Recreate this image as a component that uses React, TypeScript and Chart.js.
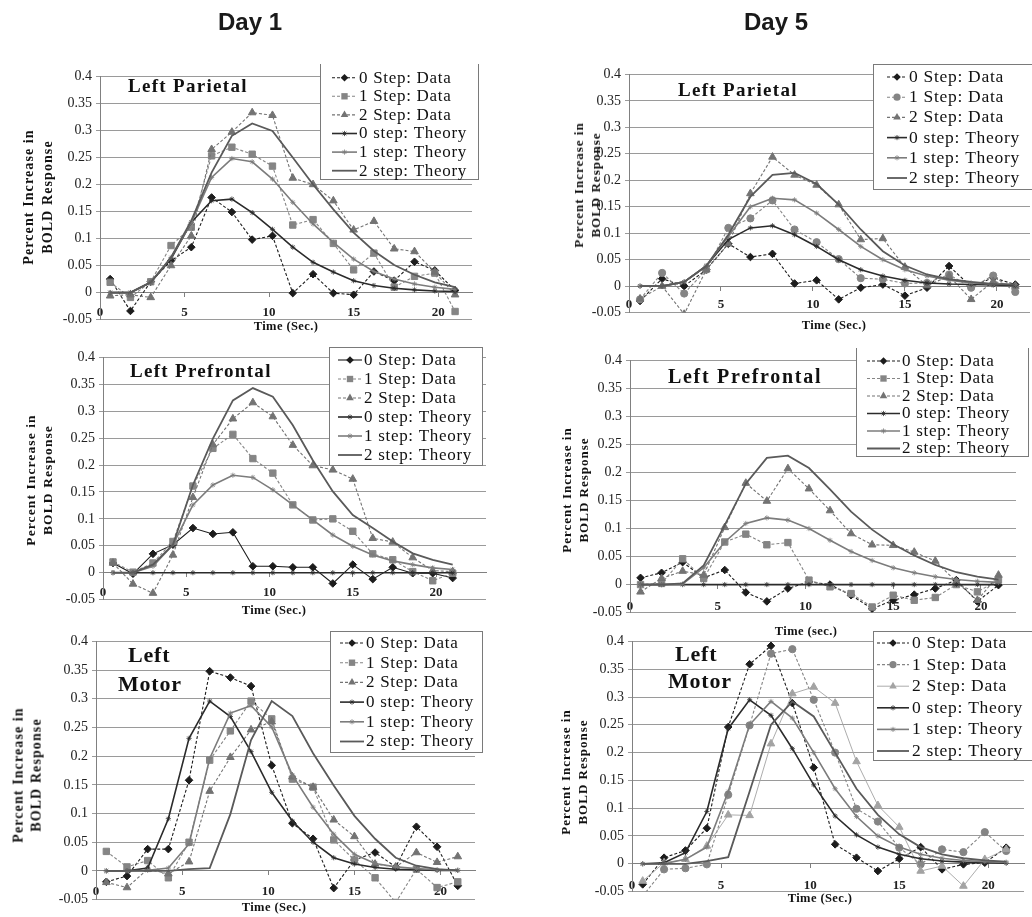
import React, { useEffect, useRef } from 'react';
import { Chart, registerables } from 'chart.js';

Chart.register(...registerables);

// ---------------- DATA ----------------
const TIME_SEC = [0.6, 1.8, 3.0, 4.2, 5.4, 6.6, 7.8, 9.0, 10.2, 11.4, 12.6, 13.8, 15.0, 16.2, 17.4, 18.6, 19.8, 21.0];
const X_TICKS = [0, 5, 10, 15, 20];
const Y_TICKS = [-0.05, 0, 0.05, 0.1, 0.15, 0.2, 0.25, 0.3, 0.35, 0.4];
const SERIES_LABELS = ['0 Step: Data', '1 Step: Data', '2 Step: Data', '0 step: Theory', '1 step: Theory', '2 step: Theory'];
const DAY_TITLES = ['Day 1', 'Day 5'];
const Y_TITLE = ['Percent Increase in', 'BOLD Response'];

// Day 1 - Left Parietal
const D1_PAR_D0 = [0.025, -0.034, 0.020, 0.059, 0.084, 0.176, 0.149, 0.098, 0.105, -0.001, 0.034, -0.001, -0.004, 0.039, 0.022, 0.057, 0.041, 0.004];
const D1_PAR_D1 = [0.019, -0.009, 0.020, 0.087, 0.121, 0.253, 0.269, 0.256, 0.234, 0.125, 0.135, 0.091, 0.042, 0.073, 0.010, 0.030, 0.036, -0.035];
const D1_PAR_D2 = [-0.006, -0.004, -0.009, 0.050, 0.105, 0.265, 0.297, 0.333, 0.328, 0.212, 0.200, 0.170, 0.116, 0.132, 0.081, 0.076, 0.038, -0.004];
const D1_PAR_T0 = [0, 0, 0.019, 0.062, 0.130, 0.170, 0.173, 0.148, 0.117, 0.084, 0.056, 0.038, 0.022, 0.013, 0.008, 0.005, 0.003, 0.002];
const D1_PAR_T1 = [0, 0, 0.019, 0.065, 0.130, 0.213, 0.248, 0.242, 0.210, 0.167, 0.127, 0.093, 0.062, 0.039, 0.025, 0.016, 0.010, 0.006];
const D1_PAR_T2 = [0, 0, 0.019, 0.065, 0.133, 0.222, 0.290, 0.313, 0.299, 0.250, 0.200, 0.154, 0.111, 0.077, 0.051, 0.033, 0.019, 0.010];

// Day 1 - Left Prefrontal
const D1_PRE_D0 = [0.018, -0.002, 0.035, 0.052, 0.083, 0.072, 0.075, 0.012, 0.012, 0.010, 0.010, -0.020, 0.015, -0.012, 0.010, -0.001, -0.001, -0.010];
const D1_PRE_D1 = [0.020, 0.001, 0.018, 0.058, 0.161, 0.231, 0.257, 0.212, 0.185, 0.126, 0.098, 0.100, 0.077, 0.035, 0.024, 0.002, -0.015, -0.001];
const D1_PRE_D2 = [0.018, -0.021, -0.038, 0.033, 0.140, 0.238, 0.286, 0.316, 0.290, 0.237, 0.199, 0.191, 0.174, 0.064, 0.057, 0.028, 0.004, 0.002];
const D1_PRE_T0 = [0, 0, 0, 0, 0, 0, 0, 0, 0, 0, 0, 0, 0, 0, 0, 0, 0, 0];
const D1_PRE_T1 = [0, 0, 0.012, 0.052, 0.126, 0.163, 0.181, 0.177, 0.154, 0.126, 0.098, 0.070, 0.049, 0.033, 0.022, 0.015, 0.009, 0.006];
const D1_PRE_T2 = [0, 0, 0.015, 0.052, 0.163, 0.249, 0.320, 0.343, 0.327, 0.274, 0.209, 0.151, 0.107, 0.083, 0.058, 0.036, 0.024, 0.015];

// Day 1 - Left Motor
const D1_MOT_D0 = [-0.019, -0.009, 0.038, 0.038, 0.158, 0.348, 0.337, 0.322, 0.184, 0.083, 0.056, -0.030, 0.019, 0.032, 0.007, 0.077, 0.042, -0.026];
const D1_MOT_D1 = [0.034, 0.007, 0.018, -0.012, 0.050, 0.193, 0.244, 0.296, 0.265, 0.160, 0.146, 0.054, 0.019, -0.012, -0.055, 0.003, -0.029, -0.019];
const D1_MOT_D2 = [-0.020, -0.029, 0.003, -0.005, 0.016, 0.139, 0.198, 0.246, 0.260, 0.164, 0.146, 0.089, 0.060, 0.012, 0.007, 0.032, 0.015, 0.025];
const D1_MOT_T0 = [0, 0, 0.005, 0.091, 0.231, 0.296, 0.269, 0.208, 0.137, 0.087, 0.050, 0.023, 0.012, 0.006, 0.003, 0.002, 0.001, 0.001];
const D1_MOT_T1 = [0, 0, 0.001, 0.005, 0.047, 0.196, 0.275, 0.288, 0.251, 0.167, 0.111, 0.064, 0.029, 0.013, 0.007, 0.004, 0.002, 0.001];
const D1_MOT_T2 = [0, 0, 0, 0, 0.003, 0.005, 0.099, 0.228, 0.296, 0.270, 0.205, 0.149, 0.096, 0.056, 0.023, 0.009, 0.003, 0.001];

// Day 5 - Left Parietal
const D5_PAR_D0 = [-0.028, 0.014, 0.0, 0.031, 0.080, 0.055, 0.061, 0.005, 0.011, -0.025, -0.003, 0.003, -0.018, -0.003, 0.038, -0.001, 0.016, 0.003];
const D5_PAR_D1 = [-0.025, 0.025, -0.014, 0.031, 0.110, 0.128, 0.162, 0.107, 0.083, 0.051, 0.015, 0.013, 0.005, 0.006, 0.022, -0.003, 0.020, -0.011];
const D5_PAR_D2 = [-0.024, 0.0, -0.053, 0.031, 0.080, 0.175, 0.244, 0.210, 0.191, 0.154, 0.088, 0.090, 0.036, 0.001, 0.019, -0.025, 0.009, 0.0];
const D5_PAR_T0 = [0, 0, 0.008, 0.038, 0.088, 0.110, 0.114, 0.097, 0.075, 0.050, 0.031, 0.019, 0.011, 0.006, 0.004, 0.003, 0.002, 0.001];
const D5_PAR_T1 = [0, 0, 0.008, 0.038, 0.094, 0.150, 0.166, 0.163, 0.138, 0.107, 0.075, 0.050, 0.031, 0.019, 0.011, 0.006, 0.004, 0.003];
const D5_PAR_T2 = [0, 0, 0.008, 0.038, 0.097, 0.169, 0.210, 0.214, 0.193, 0.154, 0.107, 0.066, 0.039, 0.022, 0.013, 0.008, 0.004, 0.003];

// Day 5 - Left Prefrontal
const D5_PRE_D0 = [0.012, 0.021, 0.040, 0.012, 0.026, -0.014, -0.030, -0.007, 0.005, 0.0, -0.019, -0.043, -0.028, -0.018, -0.007, 0.008, -0.030, -0.001];
const D5_PRE_D1 = [0.0, 0.002, 0.046, 0.011, 0.076, 0.090, 0.071, 0.075, 0.008, -0.004, -0.016, -0.040, -0.019, -0.028, -0.023, 0.0, -0.013, 0.008];
const D5_PRE_D2 = [-0.013, 0.011, 0.024, 0.017, 0.102, 0.181, 0.149, 0.207, 0.171, 0.132, 0.091, 0.071, 0.070, 0.058, 0.042, 0.005, -0.028, 0.017];
const D5_PRE_T0 = [0, 0, 0, 0, 0, 0, 0, 0, 0, 0, 0, 0, 0, 0, 0, 0, 0, 0];
const D5_PRE_T1 = [0, 0, 0.001, 0.030, 0.076, 0.109, 0.119, 0.115, 0.100, 0.079, 0.059, 0.043, 0.030, 0.021, 0.014, 0.009, 0.006, 0.004];
const D5_PRE_T2 = [0, 0, 0.002, 0.034, 0.106, 0.180, 0.226, 0.230, 0.208, 0.170, 0.130, 0.098, 0.072, 0.052, 0.035, 0.022, 0.014, 0.009];

// Day 5 - Left Motor
const D5_MOT_D0 = [-0.037, 0.011, 0.024, 0.064, 0.246, 0.359, 0.392, 0.289, 0.173, 0.035, 0.011, -0.013, 0.009, 0.030, -0.010, -0.001, 0.002, 0.029];
const D5_MOT_D1 = [-0.058, -0.010, -0.008, -0.001, 0.124, 0.249, 0.378, 0.386, 0.295, 0.200, 0.099, 0.076, 0.029, -0.001, 0.026, 0.021, 0.057, 0.023];
const D5_MOT_D2 = [-0.031, 0.002, 0.008, 0.032, 0.088, 0.087, 0.216, 0.306, 0.318, 0.289, 0.184, 0.105, 0.066, -0.013, -0.004, -0.040, 0.008, 0.026];
const D5_MOT_T0 = [0, 0.002, 0.020, 0.094, 0.243, 0.295, 0.267, 0.207, 0.142, 0.086, 0.052, 0.030, 0.017, 0.009, 0.005, 0.003, 0.002, 0.001];
const D5_MOT_T1 = [0, 0, 0.008, 0.030, 0.130, 0.250, 0.292, 0.262, 0.200, 0.135, 0.085, 0.050, 0.030, 0.017, 0.010, 0.006, 0.004, 0.003];
const D5_MOT_T2 = [0, 0, 0, 0.005, 0.012, 0.130, 0.250, 0.292, 0.265, 0.200, 0.135, 0.088, 0.053, 0.030, 0.017, 0.010, 0.006, 0.004];

// ---------------- LAYOUT / STYLE ----------------
const SERIF = "'Liberation Serif', 'Times New Roman', serif";
const SANS = "'Liberation Sans', Arial, sans-serif";
const YW = 50, PT = 12, PB = 12, PR = 70;

interface LegendBox { x: number; y: number; w: number; h: number; row0: number; rowH: number; s0: number; s1: number; tx: number; fs: number }
interface PanelCfg {
  series: number[][];
  marker1: string;
  dash0: number[];
  dash2: number[];
  color2: string;
  width2: number;
  left: number; top: number; right: number; bottom: number; xMax: number; xPad: number;
  legend: LegendBox;
  title: [string, number, number][];
  titleFs: number; titleLs: number;
  yTitle: { x1: number; x2: number; cy: number; fs: number; ls: number };
  xTitle: { text: string; cx: number; cy: number };
}

const DASH = [3, 2];

const PANELS: PanelCfg[] = [
  {
    series: [D1_PAR_D0, D1_PAR_D1, D1_PAR_D2, D1_PAR_T0, D1_PAR_T1, D1_PAR_T2],
    marker1: 'rect', dash0: DASH, dash2: DASH, color2: '#737373', width2: 1.1,
    left: 100, top: 76, right: 472, bottom: 320, xMax: 22, xPad: 8,
    legend: { x: 320, y: 62, w: 158, h: 117, row0: 77.7, rowH: 18.6, s0: 332, s1: 357, tx: 359, fs: 17 },
    title: [['Left Parietal', 128, 92.3]], titleFs: 19, titleLs: 1.3,
    yTitle: { x1: 28, x2: 47, cy: 197, fs: 14, ls: 1.1 },
    xTitle: { text: 'Time (Sec.)', cx: 286, cy: 326 },
  },
  {
    series: [D1_PRE_D0, D1_PRE_D1, D1_PRE_D2, D1_PRE_T0, D1_PRE_T1, D1_PRE_T2],
    marker1: 'rect', dash0: [], dash2: DASH, color2: '#737373', width2: 1.1,
    left: 103, top: 357, right: 486, bottom: 600, xMax: 23, xPad: 8,
    legend: { x: 329, y: 347, w: 153, h: 118, row0: 360, rowH: 19, s0: 338, s1: 362, tx: 364, fs: 17 },
    title: [['Left Prefrontal', 130, 376.7]], titleFs: 19, titleLs: 1.3,
    yTitle: { x1: 31.7, x2: 48.3, cy: 480, fs: 13.5, ls: 1.1 },
    xTitle: { text: 'Time (Sec.)', cx: 274, cy: 610 },
  },
  {
    series: [D1_MOT_D0, D1_MOT_D1, D1_MOT_D2, D1_MOT_T0, D1_MOT_T1, D1_MOT_T2],
    marker1: 'rect', dash0: DASH, dash2: DASH, color2: '#737373', width2: 1.1,
    left: 96, top: 641, right: 475, bottom: 900, xMax: 22, xPad: 9,
    legend: { x: 330, y: 631, w: 152, h: 121, row0: 643, rowH: 19.7, s0: 340, s1: 364, tx: 366, fs: 17 },
    title: [['Left', 128, 662.3], ['Motor', 118, 691.7]], titleFs: 22, titleLs: 0.8,
    yTitle: { x1: 18.3, x2: 36.7, cy: 775, fs: 14, ls: 1.1 },
    xTitle: { text: 'Time (Sec.)', cx: 274, cy: 907 },
  },
  {
    series: [D5_PAR_D0, D5_PAR_D1, D5_PAR_D2, D5_PAR_T0, D5_PAR_T1, D5_PAR_T2],
    marker1: 'circle', dash0: DASH, dash2: DASH, color2: '#737373', width2: 1.1,
    left: 629, top: 74, right: 1030, bottom: 313, xMax: 21.8, xPad: 7,
    legend: { x: 873, y: 64, w: 170, h: 125, row0: 77, rowH: 20.2, s0: 887, s1: 907, tx: 909, fs: 17.5 },
    title: [['Left Parietal', 678, 96]], titleFs: 19, titleLs: 1.3,
    yTitle: { x1: 578, x2: 595, cy: 185, fs: 13, ls: 1 },
    xTitle: { text: 'Time (Sec.)', cx: 834, cy: 325 },
  },
  {
    series: [D5_PRE_D0, D5_PRE_D1, D5_PRE_D2, D5_PRE_T0, D5_PRE_T1, D5_PRE_T2],
    marker1: 'rect', dash0: DASH, dash2: DASH, color2: '#737373', width2: 1.1,
    left: 630, top: 360, right: 1016, bottom: 613, xMax: 22, xPad: 10,
    legend: { x: 856, y: 347, w: 172, h: 109, row0: 361, rowH: 17.5, s0: 867, s1: 900, tx: 902, fs: 17 },
    title: [['Left Prefrontal', 668, 382.3]], titleFs: 20, titleLs: 1.7,
    yTitle: { x1: 566, x2: 583, cy: 490, fs: 13, ls: 1 },
    xTitle: { text: 'Time (sec.)', cx: 806, cy: 631 },
  },
  {
    series: [D5_MOT_D0, D5_MOT_D1, D5_MOT_D2, D5_MOT_T0, D5_MOT_T1, D5_MOT_T2],
    marker1: 'circle', dash0: DASH, dash2: [], color2: '#a3a3a3', width2: 0.9,
    left: 632, top: 641, right: 1024, bottom: 892, xMax: 22, xPad: 10,
    legend: { x: 873, y: 631, w: 170, h: 129, row0: 643, rowH: 21.6, s0: 877, s1: 909, tx: 912, fs: 17.5 },
    title: [['Left', 675, 661.7], ['Motor', 668, 688.3]], titleFs: 22, titleLs: 0.8,
    yTitle: { x1: 565, x2: 582, cy: 772, fs: 13, ls: 1 },
    xTitle: { text: 'Time (Sec.)', cx: 820, cy: 898 },
  },
];

function fmtY(v: number): string {
  const n = parseFloat(Number(v).toFixed(2));
  return (Object.is(n, -0) ? 0 : n).toString();
}

function drawMarker(ctx: CanvasRenderingContext2D, style: string, r: number, x: number, y: number) {
  ctx.beginPath();
  if (style === 'rectRot') {
    ctx.moveTo(x - r, y); ctx.lineTo(x, y - r); ctx.lineTo(x + r, y); ctx.lineTo(x, y + r); ctx.closePath(); ctx.fill();
  } else if (style === 'rect') {
    const s = r * Math.SQRT1_2; ctx.rect(x - s, y - s, 2 * s, 2 * s); ctx.fill();
  } else if (style === 'circle') {
    ctx.arc(x, y, r, 0, Math.PI * 2); ctx.fill();
  } else if (style === 'triangle') {
    ctx.moveTo(x, y - r); ctx.lineTo(x + 0.866 * r, y + 0.5 * r); ctx.lineTo(x - 0.866 * r, y + 0.5 * r); ctx.closePath(); ctx.fill();
  } else if (style === 'star') {
    const d = r * 0.7071;
    ctx.moveTo(x - r, y); ctx.lineTo(x + r, y); ctx.moveTo(x, y - r); ctx.lineTo(x, y + r);
    ctx.moveTo(x - d, y - d); ctx.lineTo(x + d, y + d); ctx.moveTo(x - d, y + d); ctx.lineTo(x + d, y - d);
    ctx.stroke();
  }
}

function makeDatasets(p: PanelCfg) {
  const pts = (arr: number[]) => arr.map((v, i) => ({ x: TIME_SEC[i], y: v }));
  const styles = [
    { color: '#1c1c1c', dash: p.dash0, width: 1.1, point: 'rectRot', r: 3.8, pw: 1 },
    { color: '#858585', dash: DASH, width: 1.1, point: p.marker1, r: p.marker1 === 'circle' ? 3.6 : 4.5, pw: 1 },
    { color: p.color2, dash: p.dash2, width: p.width2, point: 'triangle', r: 4.4, pw: 1 },
    { color: '#2b2b2b', dash: [], width: 1.6, point: 'star', r: 2.6, pw: 0.8 },
    { color: '#7c7c7c', dash: [], width: 1.6, point: 'star', r: 2.6, pw: 0.8 },
    { color: '#5a5a5a', dash: [], width: 1.8, point: 'circle', r: 0, pw: 0 },
  ];
  return p.series.map((arr, i) => {
    const s = styles[i];
    return {
      label: SERIES_LABELS[i],
      data: pts(arr),
      borderColor: s.color,
      backgroundColor: s.color,
      borderWidth: s.width,
      borderDash: s.dash,
      pointStyle: s.point,
      pointRadius: s.r,
      pointHoverRadius: s.r,
      pointBackgroundColor: s.color,
      pointBorderColor: s.color,
      pointBorderWidth: s.pw,
      tension: 0,
      fill: false,
      clip: 0,
      order: 6 - i,
    };
  });
}

function Panel({ p }: { p: PanelCfg }) {
  const ref = useRef<HTMLCanvasElement>(null);
  const cLeft = p.left - YW;
  const cTop = p.top - PT;
  const w = p.right - cLeft + PR;
  const h = p.bottom - cTop + PB;

  useEffect(() => {
    const lg = p.legend;
    const legendPlugin = {
      id: 'boxLegend',
      afterDraw(chart: any) {
        const ctx: CanvasRenderingContext2D = chart.ctx;
        const bx = lg.x - cLeft, by = lg.y - cTop;
        ctx.save();
        ctx.fillStyle = '#ffffff';
        ctx.fillRect(bx, by, lg.w, lg.h);
        ctx.strokeStyle = '#7a7a7a';
        ctx.lineWidth = 1;
        ctx.setLineDash([]);
        ctx.strokeRect(Math.round(bx) + 0.5, Math.round(by) + 0.5, Math.round(lg.w), Math.round(lg.h));
        chart.data.datasets.forEach((ds: any, i: number) => {
          const y = lg.row0 - cTop + i * lg.rowH;
          const s0 = lg.s0 - cLeft, s1 = lg.s1 - cLeft;
          ctx.setLineDash(ds.borderDash || []);
          ctx.strokeStyle = ds.borderColor;
          ctx.lineWidth = ds.borderWidth;
          ctx.beginPath();
          ctx.moveTo(s0, y);
          ctx.lineTo(s1, y);
          ctx.stroke();
          ctx.setLineDash([]);
          if (ds.pointRadius > 0) {
            ctx.fillStyle = ds.pointBackgroundColor;
            ctx.strokeStyle = ds.pointBorderColor;
            ctx.lineWidth = ds.pointBorderWidth;
            drawMarker(ctx, ds.pointStyle, ds.pointRadius, (s0 + s1) / 2, y);
          }
          ctx.fillStyle = '#111';
          ctx.font = `${lg.fs}px ${SERIF}`;
          ctx.textBaseline = 'middle';
          ctx.textAlign = 'left';
          (ctx as any).letterSpacing = '0.7px';
          ctx.fillText(ds.label, lg.tx - cLeft, y + 0.5);
          (ctx as any).letterSpacing = '0px';
        });
        ctx.restore();
      },
    };

    const chart = new Chart(ref.current as HTMLCanvasElement, {
      type: 'line',
      data: { datasets: makeDatasets(p) as any },
      plugins: [legendPlugin],
      options: {
        animation: false,
        responsive: false,
        maintainAspectRatio: false,
        events: [],
        layout: { padding: { left: 0, top: PT, right: PR, bottom: PB } },
        plugins: { legend: { display: false }, tooltip: { enabled: false } },
        scales: {
          x: {
            type: 'linear',
            min: 0,
            max: p.xMax,
            position: { y: 0 } as any,
            afterBuildTicks: (s: any) => { s.ticks = X_TICKS.map((v) => ({ value: v })); },
            ticks: {
              font: { family: SERIF, size: 13, weight: 'bold' },
              color: '#222',
              padding: p.xPad,
              autoSkip: false,
              maxRotation: 0,
              callback: (v: any) => String(v),
            },
            grid: { drawOnChartArea: false, drawTicks: true, tickLength: 4, color: '#808080' },
            border: { display: true, color: '#808080', width: 1 },
          },
          y: {
            type: 'linear',
            min: -0.05,
            max: 0.4,
            afterBuildTicks: (s: any) => { s.ticks = Y_TICKS.map((v) => ({ value: v })); },
            afterFit: (s: any) => { s.width = YW; },
            ticks: {
              font: { family: SERIF, size: 14 },
              color: '#222',
              padding: 4,
              autoSkip: false,
              callback: (v: any) => fmtY(v),
            },
            grid: { color: '#9a9a9a', lineWidth: 1, drawTicks: true, tickLength: 4 },
            border: { display: true, color: '#808080', width: 1 },
          },
        },
      } as any,
    });
    return () => chart.destroy();
  }, []);

  return (
    <canvas
      ref={ref}
      width={w}
      height={h}
      style={{ position: 'absolute', left: cLeft, top: cTop, width: w, height: h }}
    />
  );
}

function PanelTexts({ p }: { p: PanelCfg }) {
  const yt = p.yTitle;
  const lh = yt.x2 - yt.x1;
  return (
    <>
      {p.title.map(([t, x, base], i) => (
        <div
          key={i}
          style={{
            position: 'absolute', left: x, top: base - 0.8375 * p.titleFs, fontFamily: SERIF, fontWeight: 'bold',
            fontSize: p.titleFs, lineHeight: `${p.titleFs}px`, letterSpacing: `${p.titleLs}px`, color: '#111', whiteSpace: 'nowrap',
          }}
        >
          {t}
        </div>
      ))}
      <div
        style={{
          position: 'absolute', left: (yt.x1 + yt.x2) / 2, top: yt.cy, transform: 'translate(-50%, -50%) rotate(-90deg)',
          fontFamily: SERIF, fontWeight: 'bold', fontSize: yt.fs, lineHeight: `${lh}px`, letterSpacing: `${yt.ls}px`,
          color: '#111', whiteSpace: 'nowrap', textAlign: 'center',
        }}
      >
        <div>{Y_TITLE[0]}</div>
        <div>{Y_TITLE[1]}</div>
      </div>
      <div
        style={{
          position: 'absolute', left: p.xTitle.cx, top: p.xTitle.cy, transform: 'translate(-50%, -50%)',
          fontFamily: SERIF, fontWeight: 'bold', fontSize: 12.5, lineHeight: '13px', letterSpacing: '0.4px',
          color: '#111', whiteSpace: 'nowrap',
        }}
      >
        {p.xTitle.text}
      </div>
    </>
  );
}

export default function App() {
  return (
    <div style={{ position: 'absolute', left: 0, top: 0, width: 1032, height: 917, overflow: 'hidden', background: '#fff' }}>
      {PANELS.map((p, i) => <Panel key={i} p={p} />)}
      {PANELS.map((p, i) => <PanelTexts key={'t' + i} p={p} />)}
      {DAY_TITLES.map((t, i) => (
        <div
          key={t}
          style={{
            position: 'absolute', left: i === 0 ? 250 : 776, top: 30.7 - 0.8465 * 24, transform: 'translateX(-50%)',
            fontFamily: SANS, fontWeight: 'bold', fontSize: 24, lineHeight: '24px', color: '#1a1a1a', whiteSpace: 'nowrap',
          }}
        >
          {t}
        </div>
      ))}
    </div>
  );
}
